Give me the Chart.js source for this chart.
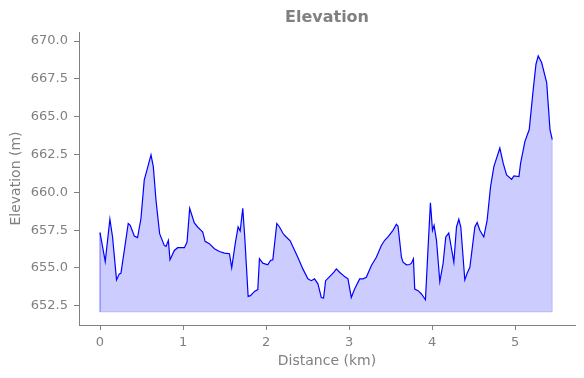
<!doctype html>
<html lang="en">
<head>
  <meta charset="utf-8">
  <title>Elevation</title>
  <style>
    * {
      margin: 0;
      padding: 0;
    }
    body {
      background: white;
    }
    .chartBox {
      width: 584px;
      height: 378px;
    }
  </style>
</head>
<body>
<div class="chartBox">
  <canvas id="myChart" width="584" height="378"></canvas>
</div>

<script src="https://cdn.jsdelivr.net/npm/chart.js"></script>
<script>
  // data (km, m)
  const distance = [
    0.000, 0.063, 0.119, 0.151, 0.199, 0.232, 0.252, 0.340, 0.364, 0.413,
    0.452, 0.493, 0.533, 0.566, 0.614, 0.642, 0.674, 0.718, 0.774, 0.795,
    0.823, 0.843, 0.895, 0.935, 0.983, 1.016, 1.048, 1.080, 1.136, 1.176,
    1.217, 1.237, 1.265, 1.317, 1.378, 1.438, 1.498, 1.559, 1.586, 1.631,
    1.663, 1.688, 1.719, 1.743, 1.784, 1.812, 1.860, 1.900, 1.920, 1.960,
    2.020, 2.053, 2.081, 2.129, 2.162, 2.201, 2.222, 2.290, 2.382, 2.443,
    2.503, 2.544, 2.584, 2.624, 2.665, 2.692, 2.717, 2.765, 2.817, 2.846,
    2.885, 2.946, 2.986, 3.026, 3.066, 3.127, 3.166, 3.207, 3.268, 3.328,
    3.388, 3.428, 3.468, 3.528, 3.569, 3.589, 3.630, 3.649, 3.690, 3.730,
    3.750, 3.774, 3.790, 3.830, 3.871, 3.919, 3.951, 3.979, 4.004, 4.023,
    4.052, 4.092, 4.131, 4.164, 4.200, 4.233, 4.261, 4.293, 4.321, 4.345,
    4.393, 4.421, 4.454, 4.514, 4.542, 4.574, 4.622, 4.662, 4.703, 4.743,
    4.815, 4.855, 4.896, 4.957, 4.984, 5.045, 5.065, 5.117, 5.169, 5.217,
    5.250, 5.277, 5.318, 5.379, 5.419, 5.446
  ];
  const elevation = [
    657.34, 655.43, 658.22, 657.05, 654.21, 654.61, 654.65, 657.94, 657.82, 657.11,
    657.01, 658.27, 660.82, 661.48, 662.48, 661.70, 659.49, 657.27, 656.49, 656.43,
    656.83, 655.54, 656.16, 656.34, 656.34, 656.34, 656.71, 658.94, 657.98, 657.71,
    657.49, 657.38, 656.76, 656.61, 656.27, 656.09, 655.98, 655.94, 655.01, 656.71,
    657.71, 657.44, 658.94, 657.05, 653.12, 653.17, 653.45, 653.57, 655.61, 655.32,
    655.21, 655.50, 655.54, 657.94, 657.71, 657.31, 657.16, 656.80, 655.71, 654.94,
    654.28, 654.16, 654.28, 653.95, 653.05, 653.01, 654.16, 654.43, 654.72, 654.94,
    654.72, 654.43, 654.28, 653.05, 653.61, 654.28, 654.28, 654.38, 655.16, 655.71,
    656.49, 656.83, 657.05, 657.49, 657.89, 657.76, 655.71, 655.38, 655.21, 655.23,
    655.32, 655.61, 653.61, 653.50, 653.28, 652.90, 656.38, 659.31, 657.49, 657.82,
    656.83, 654.10, 655.28, 657.05, 657.31, 656.27, 655.38, 657.71, 658.22, 657.71,
    654.21, 654.65, 655.05, 657.71, 658.00, 657.49, 657.05, 658.16, 660.37, 661.70,
    662.93, 661.93, 661.15, 660.86, 661.08, 661.04, 661.93, 663.37, 664.15, 666.81,
    668.47, 669.02, 668.58, 667.25, 664.15, 663.48
  ];
  const fillBase = 652.1;

  const xTicks = [0, 1, 2, 3, 4, 5];
  const yTicks = [652.5, 655.0, 657.5, 660.0, 662.5, 665.0, 667.5, 670.0];

  const grey = '#808080';
  const fontFamily = "'DejaVu Sans', sans-serif";

  const profile = distance.map((d, i) => ({ x: d, y: elevation[i] }));
  const last = distance.length - 1;
  // outline of the filled area (left edge, base, right edge)
  const outline = [
    { x: distance[0], y: elevation[0] },
    { x: distance[0], y: fillBase },
    { x: distance[last], y: fillBase },
    { x: distance[last], y: elevation[last] }
  ];

  // title centred over the plot area
  const titlePlugin = {
    id: 'plotTitle',
    afterDraw(chart) {
      const { ctx, chartArea } = chart;
      ctx.save();
      ctx.font = "bold 16px " + fontFamily;
      ctx.fillStyle = grey;
      ctx.textAlign = 'center';
      ctx.textBaseline = 'middle';
      ctx.fillText('Elevation', (chartArea.left + chartArea.right) / 2, 18);
      ctx.restore();
    }
  };

  const config = {
    type: 'line',
    data: {
      datasets: [
        {
          label: 'outline',
          data: outline,
          borderColor: 'rgba(0, 0, 255, 0.2)',
          borderWidth: 1,
          pointRadius: 0,
          fill: false,
          order: 2
        },
        {
          label: 'Elevation',
          data: profile,
          borderColor: '#0000ff',
          borderWidth: 1.2,
          backgroundColor: 'rgba(0, 0, 255, 0.2)',
          pointRadius: 0,
          tension: 0,
          fill: { value: fillBase },
          order: 1
        }
      ]
    },
    options: {
      responsive: false,
      animation: false,
      devicePixelRatio: 1,
      layout: {
        padding: { top: 32, right: 9, bottom: 0, left: 0 }
      },
      scales: {
        x: {
          type: 'linear',
          min: -0.253,
          max: 5.72,
          afterFit: (scale) => { scale.height = 53; },
          afterBuildTicks: (scale) => {
            scale.ticks = xTicks.map(v => ({ value: v }));
          },
          ticks: {
            color: grey,
            padding: 5,
            maxRotation: 0,
            font: { family: fontFamily, size: 13 },
            callback: (v) => String(v)
          },
          grid: {
            drawOnChartArea: false,
            drawTicks: true,
            tickLength: 5,
            color: grey
          },
          border: { display: true, color: grey, width: 1 },
          title: {
            display: true,
            text: 'Distance (km)',
            color: grey,
            font: { family: fontFamily, size: 14 },
            padding: { top: 0, bottom: 8 }
          }
        },
        y: {
          type: 'linear',
          min: 651.23,
          max: 670.6,
          afterFit: (scale) => { scale.width = 79; },
          afterBuildTicks: (scale) => {
            scale.ticks = yTicks.map(v => ({ value: v }));
          },
          ticks: {
            color: grey,
            padding: 6,
            font: { family: fontFamily, size: 13 },
            callback: (v) => Number(v).toFixed(1)
          },
          grid: {
            drawOnChartArea: false,
            drawTicks: true,
            tickLength: 5,
            color: grey
          },
          border: { display: true, color: grey, width: 1 },
          title: {
            display: true,
            text: 'Elevation (m)',
            color: grey,
            font: { family: fontFamily, size: 14 },
            padding: { top: 8, bottom: 0 }
          }
        }
      },
      plugins: {
        legend: { display: false },
        tooltip: { enabled: false },
        title: { display: false }
      }
    },
    plugins: [titlePlugin]
  };

  const myChart = new Chart(document.getElementById('myChart'), config);
</script>
</body>
</html>
